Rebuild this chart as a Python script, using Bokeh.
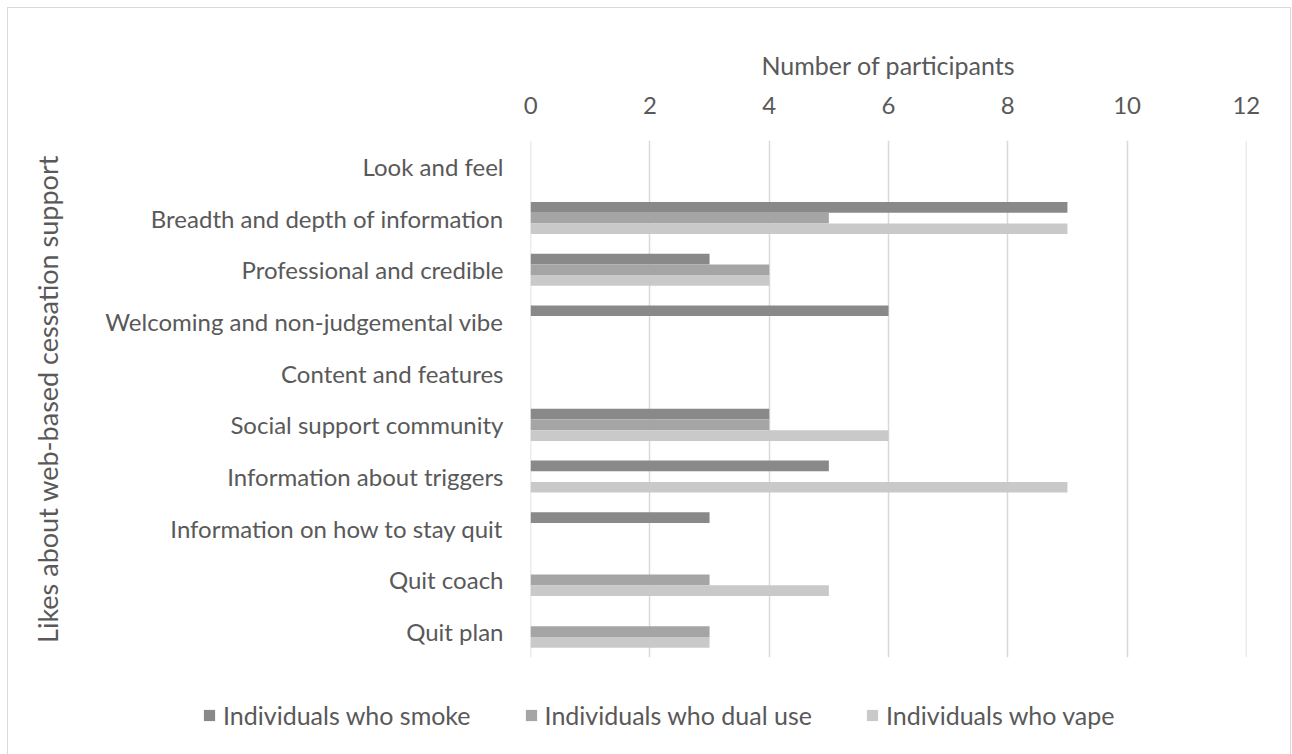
from bokeh.plotting import figure
from bokeh.models import FactorRange, Legend, LegendItem, ColumnDataSource, FixedTicker, Range1d
from bokeh.layouts import column
from bokeh.transform import dodge
from bokeh.embed import file_html
from bokeh.resources import INLINE

categories = [
    "Look and feel",
    "Breadth and depth of information",
    "Professional and credible",
    "Welcoming and non-judgemental vibe",
    "Content and features",
    "Social support community",
    "Information about triggers",
    "Information on how to stay quit",
    "Quit coach",
    "Quit plan",
]
smoke = [0, 9, 3, 6, 0, 4, 5, 3, 0, 0]
dual = [0, 5, 4, 0, 0, 4, 0, 0, 3, 3]
vape = [0, 9, 4, 0, 0, 6, 9, 0, 5, 3]
series_names = ["Individuals who smoke", "Individuals who dual use", "Individuals who vape"]
colors = ["#898989", "#a5a5a5", "#c9c9c9"]
x_ticks = [0, 2, 4, 6, 8, 10, 12]

FONT = "Lato"
TXT = "#595959"
KEYS = ["smoke", "dual", "vape"]
OFFSETS = [0.207, 0.0, -0.207]

src = ColumnDataSource(dict(cat=categories, smoke=smoke, dual=dual, vape=vape))

p = figure(
    width=1282, height=651,
    y_range=FactorRange(factors=list(reversed(categories)), range_padding=0),
    x_range=Range1d(-0.002, 12.002),
    x_axis_location="above",
    output_backend="svg", toolbar_location=None,
    min_border_left=522, min_border_right=44, min_border_top=132, min_border_bottom=2,
    frame_align=False,
)
p.outline_line_color = None
p.ygrid.grid_line_color = None
p.xgrid.grid_line_color = "#d9d9d9"
p.xgrid.grid_line_width = 1.5
p.xaxis.ticker = FixedTicker(ticks=x_ticks)

for key, off, col in zip(KEYS, OFFSETS, colors):
    p.hbar(y=dodge("cat", off, range=p.y_range), right=key, left=0, height=0.207,
           source=src, fill_color=col, line_color=None)

for ax in (p.xaxis[0], p.yaxis[0]):
    ax.axis_line_color = None
    ax.major_tick_line_color = None
    ax.minor_tick_line_color = None
    ax.major_label_text_font = FONT
    ax.major_label_text_color = TXT
    ax.major_label_text_font_size = "24px"
    ax.axis_label_text_font = FONT
    ax.axis_label_text_color = TXT
    ax.axis_label_text_font_style = "normal"

p.xaxis.axis_label = "Number of participants"
p.xaxis.axis_label_text_font_size = "25px"
p.xaxis.major_label_standoff = 21
p.xaxis.axis_label_standoff = 14
p.yaxis.axis_label = "Likes about web-based cessation support"
p.yaxis.axis_label_text_font_size = "27px"
p.yaxis.major_label_standoff = 21
p.yaxis.axis_label_standoff = 38

# legend strip below the chart
leg = figure(
    width=1282, height=95,
    y_range=FactorRange(factors=list(reversed(categories))),
    x_range=Range1d(0, 12),
    x_axis_location=None, y_axis_location=None,
    output_backend="svg", toolbar_location=None, min_border=0,
    frame_align=False,
)
leg.outline_line_color = None
leg.grid.grid_line_color = None
leg_renderers = []
for key, off, col in zip(KEYS, OFFSETS, colors):
    r = leg.hbar(y=dodge("cat", off, range=leg.y_range), right=key, left=0, height=0.207,
                 source=src, fill_color=col, line_color=None, visible=False)
    leg_renderers.append(r)

legend = Legend(
    items=[LegendItem(label=n, renderers=[r]) for n, r in zip(series_names, leg_renderers)],
    orientation="horizontal", location=(194, 24),
    label_text_font=FONT, label_text_color=TXT, label_text_font_size="25px",
    glyph_width=14, glyph_height=14, label_standoff=7, spacing=53,
    border_line_color=None, background_fill_alpha=0, margin=0, padding=0,
    click_policy="none",
)
leg.add_layout(legend)

layout = column(
    p, leg,
    styles={
        "margin-left": "7px", "margin-top": "7px",
        "border-left": "1px solid #d9d9d9",
        "border-top": "1px solid #d9d9d9",
        "border-right": "1px solid #d9d9d9",
    },
)

open("out.html", "w").write(file_html(layout, INLINE))
